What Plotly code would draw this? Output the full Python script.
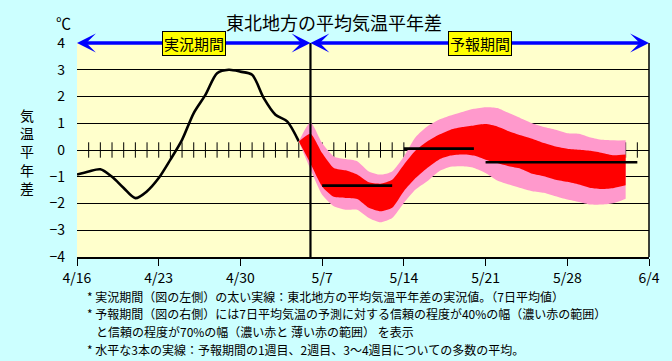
import plotly.graph_objects as go

# ---------------- data ----------------
date_labels = ["4/16", "4/23", "4/30", "5/7", "5/14", "5/21", "5/28", "6/4"]
label_days = [0, 7, 14, 21, 28, 35, 42, 49]

obs_days = list(range(0, 20))
obs_values = [-0.92, -0.80, -0.72, -1.00, -1.42, -1.80, -1.54, -1.05, -0.36, 0.38,
              1.38, 2.06, 2.87, 3.00, 2.93, 2.81, 1.94, 1.32, 1.07, 0.32]

fc_days = list(range(19, 48))
pink_top = [0.32, 1.04, 0.26, -0.24, -0.34, -0.42, -0.80, -0.92, -0.80, -0.24,
            0.48, 0.88, 1.13, 1.29, 1.42, 1.54, 1.60, 1.57, 1.38, 1.19,
            1.00, 0.86, 0.76, 0.63, 0.61, 0.47, 0.38, 0.36, 0.36]
red_top = [0.32, 0.61, -0.11, -0.67, -0.76, -0.92, -1.21, -1.26, -1.11, -0.55,
           -0.02, 0.32, 0.57, 0.76, 0.86, 0.92, 0.97, 0.88, 0.70, 0.55,
           0.42, 0.26, 0.13, 0.05, 0.01, -0.03, -0.11, -0.20, -0.17]
red_bot = [0.32, -0.50, -1.36, -1.75, -1.79, -1.83, -2.16, -2.29, -2.16, -1.54,
           -1.05, -0.67, -0.36, -0.21, -0.17, -0.21, -0.36, -0.49, -0.61, -0.70,
           -0.89, -0.98, -1.11, -1.19, -1.29, -1.42, -1.46, -1.42, -1.32]
pink_bot = [0.32, -0.72, -1.67, -2.10, -2.23, -2.23, -2.54, -2.70, -2.54, -1.98,
            -1.48, -1.17, -0.80, -0.63, -0.61, -0.67, -0.86, -1.14, -1.29, -1.42,
            -1.54, -1.60, -1.73, -1.85, -1.94, -2.04, -2.04, -1.98, -1.82]

mean_starts = [21, 28, 35]
mean_ends = [27, 34, 48]
mean_values = [-1.33, 0.05, -0.46]

now_day = 20
end_day = 49
y_ticks = [-4, -3, -2, -1, 0, 1, 2, 3, 4]
zero_tick_days = list(range(1, 49))

periods = [("実況期間", 0, now_day), ("予報期間", now_day, end_day)]

notes = [
    ("* 実況期間（図の左側）の太い実線：東北地方の平均気温平年差の実況値。（7日平均値）", 86, 296.5),
    ("* 予報期間（図の右側）には7日平均気温の予測に対する信頼の程度が40%の幅（濃い赤の範囲）", 86, 314),
    ("と信頼の程度が70%の幅（濃い赤と 薄い赤の範囲） を表示", 95, 331.5),
    ("* 水平な3本の実線：予報期間の1週目、2週目、3～4週目についての多数の平均。", 86, 349),
]

# ---------------- figure ----------------
FONT = "Noto Sans CJK JP"
W, H = 672, 361
L, R, T, B = 77, 20, 43, 104
PW, PH = W - L - R, H - T - B

fig = go.Figure()

# day ticks on the zero line (under the bands)
fig.add_trace(go.Scatter(
    x=zero_tick_days, y=[0] * len(zero_tick_days), mode="markers",
    marker=dict(symbol="line-ns", size=11, line=dict(color="black", width=1)),
    hoverinfo="skip", showlegend=False))

# observed line
fig.add_trace(go.Scatter(
    x=obs_days, y=obs_values, mode="lines",
    line=dict(color="black", width=2.6, shape="spline", smoothing=0.8),
    showlegend=False))

# 70% band (pink)
fig.add_trace(go.Scatter(x=fc_days, y=pink_bot, mode="lines",
                         line=dict(width=0, shape="spline", smoothing=0.6),
                         showlegend=False, hoverinfo="skip"))
fig.add_trace(go.Scatter(x=fc_days, y=pink_top, mode="lines", fill="tonexty",
                         fillcolor="#FF99CC",
                         line=dict(width=0, shape="spline", smoothing=0.6),
                         showlegend=False, hoverinfo="skip"))
# 40% band (red)
fig.add_trace(go.Scatter(x=fc_days, y=red_bot, mode="lines",
                         line=dict(width=0, shape="spline", smoothing=0.6),
                         showlegend=False, hoverinfo="skip"))
fig.add_trace(go.Scatter(x=fc_days, y=red_top, mode="lines", fill="tonexty",
                         fillcolor="#FF0000",
                         line=dict(width=0, shape="spline", smoothing=0.6),
                         showlegend=False, hoverinfo="skip"))

# weekly mean lines
for s, e, v in zip(mean_starts, mean_ends, mean_values):
    fig.add_trace(go.Scatter(x=[s, e], y=[v, v], mode="lines",
                             line=dict(color="black", width=2.6),
                             showlegend=False))

# vertical "now" line and right border
fig.add_shape(type="line", xref="x", yref="y", x0=now_day, x1=now_day,
              y0=-4, y1=4, line=dict(color="black", width=2.2), layer="above")
fig.add_shape(type="line", xref="x domain", yref="y domain", x0=1, x1=1,
              y0=0, y1=1, line=dict(color="black", width=1.5), layer="above")

# period arrows + labels
for label, s, e in periods:
    mid = (s + e) / 2
    for end in (s, e):
        fig.add_annotation(x=end, y=4, ax=mid, ay=4, axref="x", ayref="y",
                           xref="x", yref="y", text="", showarrow=True,
                           arrowhead=3, arrowsize=0.9, arrowwidth=3.5,
                           arrowcolor="#0000FF", standoff=0, startstandoff=0)
    fig.add_annotation(x=mid, y=4, xref="x", yref="y", text=label,
                       showarrow=False, bgcolor="#FFFF00", bordercolor="black",
                       borderwidth=1, borderpad=1,
                       font=dict(family=FONT, size=15, color="black"))


def px_x(p):
    return (p - L) / PW


def px_y(p):
    return (H - B - p) / PH


# title, unit, y title
fig.add_annotation(x=px_x(335), y=px_y(22), xref="paper", yref="paper",
                   xanchor="center", yanchor="middle",
                   text="東北地方の平均気温平年差", showarrow=False,
                   font=dict(family=FONT, size=18, color="black"))
fig.add_annotation(x=px_x(63), y=px_y(23), xref="paper", yref="paper",
                   xanchor="center", yanchor="middle",
                   text="℃", showarrow=False,
                   font=dict(family=FONT, size=15, color="black"))
fig.add_annotation(x=px_x(27), y=px_y(151), xref="paper", yref="paper",
                   xanchor="center", yanchor="middle",
                   text="気<br>温<br>平<br>年<br>差", showarrow=False,
                   font=dict(family=FONT, size=14, color="black"))

for txt, xl, yc in notes:
    fig.add_annotation(x=px_x(xl), y=px_y(yc), xref="paper", yref="paper",
                       xanchor="left", yanchor="middle", align="left",
                       text=txt, showarrow=False, borderpad=0,
                       font=dict(family=FONT, size=12, color="black"))

fig.update_layout(
    width=W, height=H,
    margin=dict(l=L, r=R, t=T, b=B),
    paper_bgcolor="#CCFFFF", plot_bgcolor="#FFFFCC",
    font=dict(family=FONT, color="black"),
    showlegend=False,
    xaxis=dict(range=[0, end_day], tickvals=label_days, ticktext=date_labels,
               showgrid=False, zeroline=False, showline=True,
               linecolor="black", linewidth=1.5, ticks="outside", ticklen=7,
               tickcolor="black", tickwidth=1,
               tickfont=dict(family=FONT, size=14, color="black")),
    yaxis=dict(range=[-4, 4], tickvals=y_ticks, showgrid=True,
               gridcolor="black", gridwidth=1, zeroline=False,
               showline=False, ticks="", ticklabelstandoff=11,
               tickfont=dict(family=FONT, size=14, color="black")),
)

fig.write_html("out.html", config={"displayModeBar": False},
               post_script="document.body.style.margin='0';"
                           "document.body.style.background='#CCFFFF';")
